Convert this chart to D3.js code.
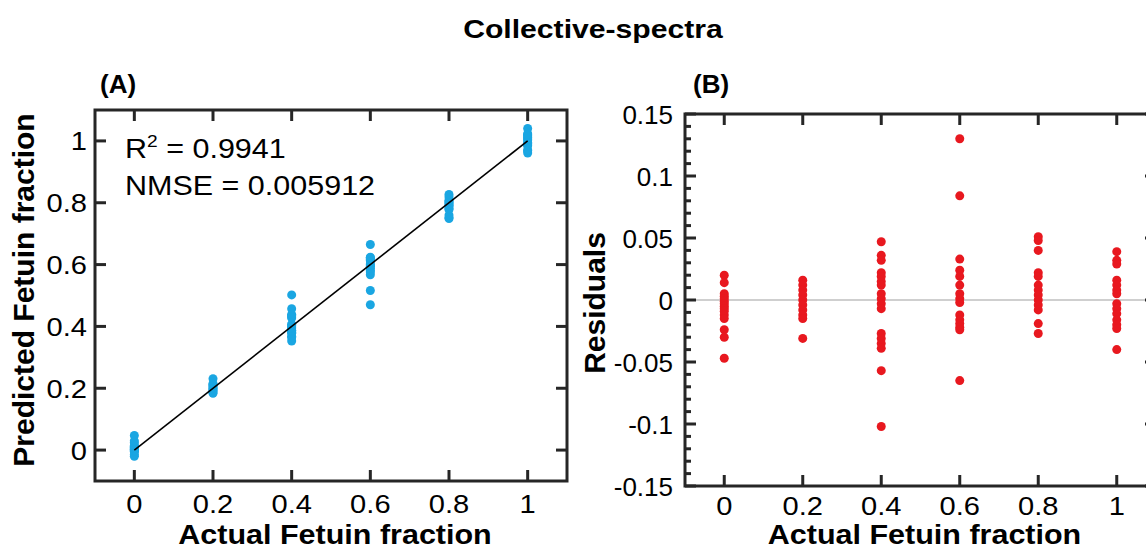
<!DOCTYPE html>
<html>
<head>
<meta charset="utf-8">
<script src="https://cdn.jsdelivr.net/npm/d3@7"></script>
<style>
  body { margin: 0; background: #fff; }
  text { font-family: "Liberation Sans", Arial, sans-serif; fill: #000; }
</style>
</head>
<body>
<div id="chart"></div>
<script>
// actual fetuin fractions (x categories)
var actual = [0, 0.2, 0.4, 0.6, 0.8, 1];

// predicted fractions per actual level (panel A)
var pred0  = [-0.020, -0.014, -0.005, -0.003, -0.001, 0.001, 0.003, 0.005, 0.007, 0.009, 0.012, 0.015, 0.024, 0.030, 0.047];
var pred02 = [0.184, 0.188, 0.192, 0.196, 0.200, 0.204, 0.208, 0.212, 0.215, 0.231];
var pred04 = [0.353, 0.364, 0.368, 0.378, 0.381, 0.385, 0.388, 0.395, 0.399, 0.403, 0.407, 0.427, 0.431, 0.435, 0.439, 0.457, 0.502];
var pred06 = [0.470, 0.516, 0.567, 0.576, 0.581, 0.588, 0.595, 0.599, 0.602, 0.612, 0.616, 0.619, 0.622, 0.624, 0.665];
var pred08 = [0.749, 0.752, 0.760, 0.778, 0.781, 0.788, 0.792, 0.796, 0.800, 0.804, 0.808, 0.819, 0.827];
var pred1  = [0.961, 0.968, 0.971, 0.984, 0.988, 0.992, 0.995, 1.003, 1.007, 1.011, 1.016, 1.020, 1.023, 1.040];

// residuals per actual level (panel B)
var res0  = [0.020, 0.014, 0.005, 0.003, 0.001, -0.001, -0.003, -0.005, -0.007, -0.009, -0.012, -0.015, -0.024, -0.030, -0.047];
var res02 = [0.016, 0.012, 0.008, 0.004, 0.000, -0.004, -0.008, -0.012, -0.015, -0.031];
var res04 = [0.047, 0.036, 0.032, 0.022, 0.019, 0.015, 0.012, 0.005, 0.001, -0.003, -0.007, -0.027, -0.031, -0.035, -0.039, -0.057, -0.102];
var res06 = [0.130, 0.084, 0.033, 0.024, 0.019, 0.012, 0.005, 0.001, -0.002, -0.012, -0.016, -0.019, -0.022, -0.024, -0.065];
var res08 = [0.051, 0.048, 0.040, 0.022, 0.019, 0.012, 0.008, 0.004, 0.000, -0.004, -0.008, -0.019, -0.027];
var res1  = [0.039, 0.032, 0.029, 0.016, 0.012, 0.008, 0.005, -0.003, -0.007, -0.011, -0.016, -0.020, -0.023, -0.040];

// fit line end points and stats
var fitLine = [[0, 0], [1, 1]];
var r2Text = "0.9941";
var nmseText = "0.005912";

var xTicks = [0, 0.2, 0.4, 0.6, 0.8, 1];
var yTicksA = [0, 0.2, 0.4, 0.6, 0.8, 1];
var yTicksB = [-0.15, -0.1, -0.05, 0, 0.05, 0.1, 0.15];

var predicted = [pred0, pred02, pred04, pred06, pred08, pred1];
var residuals = [res0, res02, res04, res06, res08, res1];

var W = 1146, H = 550;
var blue = "#1aa6e2", red = "#e8181f", axisCol = "#262626";

var svg = d3.select("#chart").append("svg")
    .attr("width", W).attr("height", H);

function flatten(groups) {
    var out = [];
    groups.forEach(function(g, i) {
        g.forEach(function(v) { out.push({x: actual[i], y: v}); });
    });
    return out;
}

// text a bit wider than the font, like the source figure
function addText(g, x, y, txt, size, sx, anchor, bold) {
    return g.append("text")
        .attr("transform", "translate(" + x + "," + y + ") scale(" + sx + ",1)")
        .attr("text-anchor", anchor || "start")
        .style("font-size", size + "px")
        .style("font-weight", bold ? "bold" : "normal")
        .text(txt);
}

// draws a boxed matlab-style axes with inward ticks
function drawFrame(g, x, y, yTicks, yMinor, tickY, gapY, sxY) {
    var x0 = x.range()[0], x1 = x.range()[1];
    var y0 = y.range()[0], y1 = y.range()[1];
    var tl = 11, tm = 6;

    var ticks = g.append("g").attr("stroke", axisCol).attr("stroke-width", 3);
    xTicks.forEach(function(t) {
        ticks.append("line").attr("x1", x(t)).attr("x2", x(t)).attr("y1", y0).attr("y2", y0 - tl);
        ticks.append("line").attr("x1", x(t)).attr("x2", x(t)).attr("y1", y1).attr("y2", y1 + tl);
    });
    yTicks.forEach(function(t) {
        ticks.append("line").attr("x1", x0).attr("x2", x0 + tl).attr("y1", y(t)).attr("y2", y(t));
        ticks.append("line").attr("x1", x1).attr("x2", x1 - tl).attr("y1", y(t)).attr("y2", y(t));
    });
    yMinor.forEach(function(t) {
        ticks.append("line").attr("x1", x0).attr("x2", x0 + tm).attr("y1", y(t)).attr("y2", y(t));
        ticks.append("line").attr("x1", x1).attr("x2", x1 - tm).attr("y1", y(t)).attr("y2", y(t));
    });

    g.append("rect")
        .attr("x", x0).attr("y", y1)
        .attr("width", x1 - x0).attr("height", y0 - y1)
        .attr("fill", "none").attr("stroke", axisCol).attr("stroke-width", 3);

    var fmt = d3.format("~g");
    xTicks.forEach(function(t) {
        addText(g, x(t), tickY, fmt(t), 26, 1.12, "middle");
    });
    yTicks.forEach(function(t) {
        addText(g, x0 - gapY, y(t) + 9.5, fmt(t).replace("\u2212", "-"), 26, sxY, "end");
    });
}

// ---- panel A
var xA = d3.scaleLinear().domain([-0.1, 1.1]).range([95, 567]);
var yA = d3.scaleLinear().domain([-0.1, 1.1]).range([481, 110]);
var gA = svg.append("g");

gA.append("g").selectAll("circle").data(flatten(predicted)).enter().append("circle")
    .attr("cx", function(d) { return xA(d.x); })
    .attr("cy", function(d) { return yA(d.y); })
    .attr("r", 4.5)
    .attr("fill", blue);

gA.append("path")
    .datum(fitLine)
    .attr("d", d3.line().x(function(d) { return xA(d[0]); }).y(function(d) { return yA(d[1]); }))
    .attr("stroke", "#000").attr("stroke-width", 1.6).attr("fill", "none");

drawFrame(gA, xA, yA, yTicksA, [], 513, 8, 1.12);

var r2 = addText(gA, 125, 158, "", 27, 1.13, "start");
r2.append("tspan").text("R");
r2.append("tspan").attr("dy", -11).style("font-size", "17px").text("2");
r2.append("tspan").attr("dy", 11).text(" = " + r2Text);
addText(gA, 125, 195, "NMSE = " + nmseText, 27, 1.13, "start");

addText(gA, 100, 93, "(A)", 26, 1.0, "start", true);
addText(gA, xA(0.5) + 4, 544, "Actual Fetuin fraction", 27, 1.13, "middle", true);
gA.append("text")
    .attr("transform", "translate(34,290) rotate(-90)")
    .attr("text-anchor", "middle")
    .style("font-size", "30px").style("font-weight", "bold").text("Predicted Fetuin fraction");

// ---- panel B
var xB = d3.scaleLinear().domain([-0.1, 1.1]).range([685, 1156]);
var yB = d3.scaleLinear().domain([-0.15, 0.15]).range([486, 114]);
var gB = svg.append("g");

gB.append("line")
    .attr("x1", xB.range()[0]).attr("x2", xB.range()[1])
    .attr("y1", yB(0)).attr("y2", yB(0))
    .attr("stroke", "#cfcfcf").attr("stroke-width", 2);

gB.append("g").selectAll("circle").data(flatten(residuals)).enter().append("circle")
    .attr("cx", function(d) { return xB(d.x); })
    .attr("cy", function(d) { return yB(d.y); })
    .attr("r", 4.5)
    .attr("fill", red);

var minorB = d3.range(-15, 16).map(function(i) { return i / 100; })
    .filter(function(v) { return Math.abs(Math.round(v * 100) % 5) !== 0; });

drawFrame(gB, xB, yB, yTicksB, minorB, 515, 12, 1.0);

addText(gB, 693, 93, "(B)", 26, 1.0, "start", true);
addText(gB, xB(0.5) + 4, 544, "Actual Fetuin fraction", 27, 1.13, "middle", true);
gB.append("text")
    .attr("transform", "translate(605,303) rotate(-90)")
    .attr("text-anchor", "middle")
    .style("font-size", "30px").style("font-weight", "bold").text("Residuals");

// ---- title
addText(svg, 593, 38, "Collective-spectra", 26, 1.16, "middle", true);
</script>
</body>
</html>
